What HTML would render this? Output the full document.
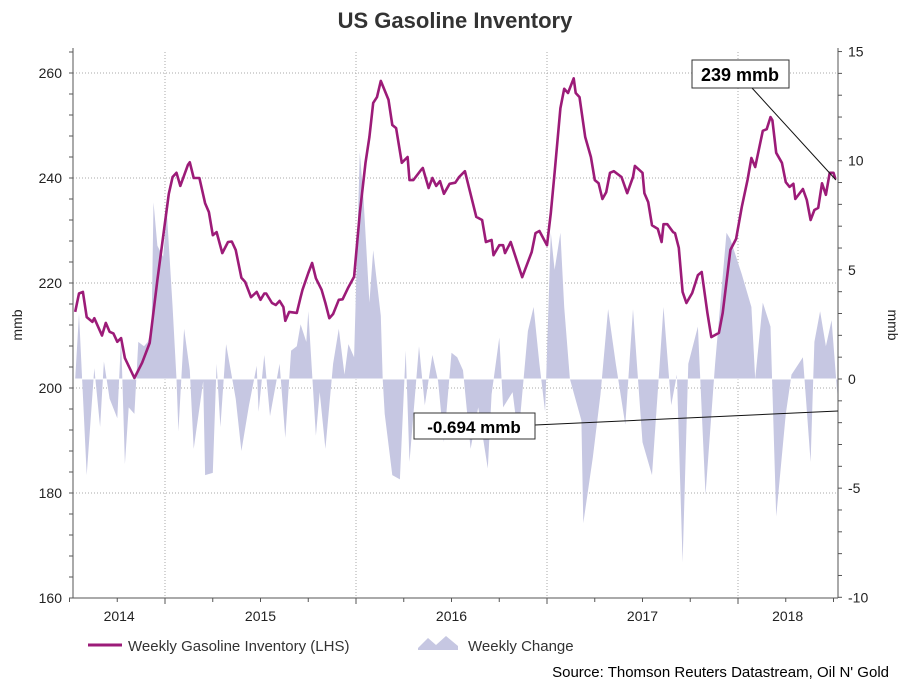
<!DOCTYPE html>
<html><head><meta charset="utf-8"><style>
body{margin:0;background:#fff;font-family:"Liberation Sans",sans-serif}
svg text{font-family:"Liberation Sans",sans-serif}
</style></head><body>
<svg id="c" width="909" height="682"></svg>
<script>
const invT=[2014.53,2014.55,2014.57,2014.59,2014.62,2014.63,2014.67,2014.69,2014.71,2014.73,2014.75,2014.77,2014.79,2014.84,2014.88,2014.92,2014.96,2014.99,2015.02,2015.04,2015.06,2015.08,2015.12,2015.13,2015.15,2015.18,2015.21,2015.23,2015.25,2015.27,2015.30,2015.33,2015.35,2015.37,2015.40,2015.42,2015.45,2015.48,2015.50,2015.52,2015.53,2015.56,2015.58,2015.60,2015.62,2015.63,2015.65,2015.69,2015.71,2015.72,2015.75,2015.77,2015.79,2015.82,2015.84,2015.86,2015.88,2015.91,2015.93,2015.96,2015.99,2016.02,2016.05,2016.07,2016.09,2016.11,2016.13,2016.17,2016.19,2016.21,2016.24,2016.27,2016.28,2016.30,2016.34,2016.35,2016.38,2016.40,2016.42,2016.44,2016.46,2016.49,2016.52,2016.54,2016.57,2016.63,2016.66,2016.68,2016.71,2016.72,2016.75,2016.77,2016.78,2016.81,2016.87,2016.92,2016.94,2016.96,2017.00,2017.02,2017.04,2017.07,2017.09,2017.11,2017.14,2017.15,2017.17,2017.20,2017.23,2017.25,2017.27,2017.29,2017.31,2017.33,2017.35,2017.39,2017.42,2017.45,2017.46,2017.50,2017.51,2017.53,2017.55,2017.58,2017.60,2017.61,2017.63,2017.66,2017.67,2017.69,2017.71,2017.73,2017.76,2017.79,2017.81,2017.84,2017.86,2017.90,2017.92,2017.96,2017.99,2018.02,2018.05,2018.07,2018.09,2018.13,2018.15,2018.17,2018.18,2018.20,2018.23,2018.25,2018.27,2018.29,2018.30,2018.34,2018.36,2018.38,2018.40,2018.42,2018.44,2018.46,2018.48,2018.50,2018.51];
const invV=[214.5,218,218.3,213.5,212.6,213.3,210,212.4,210.7,210.4,208.8,209.5,205.7,201.9,204.8,208.6,220.6,228.8,237,240.2,241,238.5,242.5,243,240,240,235.2,233.5,229.1,229.7,225.7,227.8,227.9,226.3,221,220.2,217.3,218.3,216.8,218,218,216.2,215.8,216.6,215.4,212.8,214.5,214.3,217.3,218.7,221.9,223.8,220.9,218.7,216.2,213.3,214.1,216.8,216.9,219.2,221.2,233.3,242.9,247.8,254.3,255.4,258.5,254.9,250.1,249.5,242.9,244,239.6,239.6,241.5,241.9,238.1,240,238.5,239.4,237,238.9,239.1,240.2,241.3,232.6,232,227.8,228.2,225.3,227.2,227.2,225.7,227.8,221.1,225.9,229.5,229.9,227.2,233.3,241,253.3,257,256.2,259,256.2,255.4,247.8,244,239.6,239,236,237.3,241,241.3,240.2,237.1,240.2,242.3,241,237.1,235.4,231,230.3,227.8,231.2,231.2,229.7,229.5,226.7,218.3,216.2,218.1,221.5,222.1,214.3,209.7,210.5,214.3,226.3,228.4,234.5,239.6,243.8,242.1,249,249.3,251.6,251,244.8,242.9,239.2,238.3,238.9,236,237.9,235.8,232,233.9,234.3,239,236.8,241,241,239.8];
const chgT=[2014.53,2014.55,2014.59,2014.63,2014.66,2014.68,2014.71,2014.75,2014.77,2014.79,2014.81,2014.84,2014.86,2014.89,2014.91,2014.93,2014.94,2014.96,2014.99,2015.01,2015.04,2015.06,2015.07,2015.10,2015.13,2015.15,2015.20,2015.21,2015.25,2015.27,2015.29,2015.32,2015.37,2015.40,2015.44,2015.48,2015.49,2015.52,2015.55,2015.60,2015.63,2015.66,2015.69,2015.71,2015.74,2015.75,2015.79,2015.81,2015.84,2015.88,2015.91,2015.94,2015.96,2015.99,2016.02,2016.04,2016.07,2016.09,2016.13,2016.14,2016.15,2016.19,2016.23,2016.26,2016.28,2016.33,2016.36,2016.40,2016.43,2016.46,2016.50,2016.53,2016.56,2016.60,2016.64,2016.69,2016.71,2016.75,2016.77,2016.82,2016.85,2016.90,2016.93,2016.96,2016.99,2017.02,2017.04,2017.07,2017.09,2017.12,2017.18,2017.19,2017.24,2017.28,2017.32,2017.36,2017.41,2017.45,2017.50,2017.55,2017.59,2017.61,2017.65,2017.68,2017.71,2017.74,2017.79,2017.83,2017.88,2017.94,2017.96,2018.02,2018.07,2018.09,2018.13,2018.17,2018.20,2018.25,2018.28,2018.34,2018.38,2018.40,2018.43,2018.46,2018.49,2018.52];
const chgV=[0,3.0,-4.4,0.5,-2.2,0.8,-0.9,-1.8,1.9,-3.9,-1.3,-1.6,1.7,1.5,1.7,2.4,8.1,6.1,5.6,7.6,3.3,0,-2.4,2.3,0.4,-3.2,-0.1,-4.4,-4.3,0.7,-2.2,1.6,-0.9,-3.3,-1.2,0.6,-1.5,1.1,-1.7,0.7,-2.7,1.3,1.5,2.5,1.7,3.1,-2.6,-0.6,-3.2,0.7,2.3,0.2,1.6,1.0,10.4,8.2,3.5,5.9,2.9,0,-1.6,-4.4,-4.6,1.3,-3.8,1.5,-1.2,1.1,-0.1,-2.9,1.2,1.0,0.4,-3.2,-1.3,-4.1,-0.7,1.9,-1.3,-0.6,-2.7,2.2,3.3,0.7,-1.5,6.7,5.0,6.7,3.3,0,-1.9,-6.6,-3.6,-0.7,3.2,0.7,-2.1,3.2,-2.9,-4.4,0.7,3.3,-1.2,0.2,-8.4,0.7,2.4,-5.3,0.7,6.7,6.4,4.8,3.3,0,3.5,2.4,-6.3,-1.6,0.2,1.0,-3.8,1.7,3.1,1.5,2.7,-0.694];
const leftTicks=[160,180,200,220,240,260];
const rightTicks=[-10,-5,0,5,10,15];
const yearLabels=["2014","2015","2016","2017","2018"];
const yearMid=[2014.76,2015.5,2016.5,2017.5,2018.26];

const NS="http://www.w3.org/2000/svg";
const svg=document.getElementById('c');
const X0=73,X1=838,YT=52,YB=598;
const x=t=>165+(t-2015)*191;
const yL=v=>598-(v-160)*5.25;
const yR=v=>379-v*21.83;
function mk(tag,attrs,parent){const e=document.createElementNS(NS,tag);for(const k in attrs)e.setAttribute(k,attrs[k]);(parent||svg).appendChild(e);return e;}

let e=mk('text',{x:455,y:28,'text-anchor':'middle','font-size':22,'font-weight':'bold',fill:'#333'});e.textContent='US Gasoline Inventory';



leftTicks.forEach(v=>{if(v>160){let g=mk('line',{x1:X0,x2:X1,y1:yL(v),y2:yL(v),stroke:'#aaa','stroke-dasharray':'1,2'});

}});
[2015,2016,2017,2018].forEach(t=>{let g=mk('line',{x1:x(t),x2:x(t),y1:YT,y2:YB,stroke:'#aaa','stroke-dasharray':'1,2'});

});

let d='M'+x(chgT[0])+','+yR(0);
chgT.forEach((t,i)=>{d+=' L'+x(t).toFixed(1)+','+yR(chgV[i]).toFixed(1);});
d+=' L'+x(chgT[chgT.length-1])+','+yR(0)+' Z';
e=mk('path',{d:d,fill:'#c6c7e2',stroke:'none'});


e=mk('line',{x1:X0,x2:X1,y1:yR(0),y2:yR(0),stroke:'#fff','stroke-width':1});

let p=invT.map((t,i)=>x(t).toFixed(1)+','+yL(invV[i]).toFixed(1)).join(' ');
e=mk('polyline',{points:p,fill:'none',stroke:'#9c1b78','stroke-width':2.6,'stroke-linejoin':'round'});



e=mk('line',{x1:X0,x2:X0,y1:YT-4,y2:YB,stroke:'#555'});


e=mk('line',{x1:X1,x2:X1,y1:YT-4,y2:YB,stroke:'#555'});


e=mk('line',{x1:X0,x2:X1,y1:YB,y2:YB,stroke:'#555'});


for(let v=160;v<=264;v+=4){mk('line',{x1:X0-4,x2:X0,y1:yL(v),y2:yL(v),stroke:'#555'});}
for(let v=-10;v<=15;v+=1){mk('line',{x1:X1,x2:X1+4,y1:yR(v),y2:yR(v),stroke:'#555'});}
for(let t=2014.5;t<=2018.5;t+=0.25){mk('line',{x1:x(t),x2:x(t),y1:YB,y2:YB+(Number.isInteger(t)?6:4),stroke:'#555'});}
leftTicks.forEach(v=>{let t=mk('text',{x:62,y:yL(v)+5,'text-anchor':'end','font-size':14,fill:'#222'});t.textContent=v;

});
rightTicks.forEach(v=>{let t=mk('text',{x:848,y:yR(v)+5,'font-size':14,fill:'#222'});t.textContent=v;

});
yearLabels.forEach((s,i)=>{let t=mk('text',{x:x(yearMid[i]),y:621,'text-anchor':'middle','font-size':14,fill:'#222'});t.textContent=s;

});
e=mk('text',{x:0,y:0,transform:'translate(22,325) rotate(-90)','text-anchor':'middle','font-size':14,fill:'#222'});e.textContent='mmb';


e=mk('text',{x:0,y:0,transform:'translate(888,325) rotate(90)','text-anchor':'middle','font-size':14,fill:'#222'});e.textContent='mmb';



mk('line',{x1:752,x2:836,y1:88,y2:180,stroke:'#111'});
e=mk('rect',{x:692,y:60,width:97,height:28,fill:'#fff',stroke:'#333'});


e=mk('text',{x:740,y:81,'text-anchor':'middle','font-size':18,'font-weight':'bold',fill:'#000'});e.textContent='239 mmb';
mk('line',{x1:535,x2:838,y1:425,y2:411,stroke:'#111'});
e=mk('rect',{x:414,y:413,width:121,height:26,fill:'#fff',stroke:'#333'});


e=mk('text',{x:474,y:433,'text-anchor':'middle','font-size':17,'font-weight':'bold',fill:'#000'});e.textContent='-0.694 mmb';

e=mk('line',{x1:88,x2:122,y1:645,y2:645,stroke:'#9c1b78','stroke-width':3});


e=mk('text',{x:128,y:651,'font-size':15,fill:'#333'});e.textContent='Weekly Gasoline Inventory (LHS)';


e=mk('path',{d:'M418,648 L428,638 L436,645 L446,636 L458,646 L458,650 L418,650 Z',fill:'#c6c7e2'});


e=mk('text',{x:468,y:651,'font-size':15,fill:'#333'});e.textContent='Weekly Change';


e=mk('text',{x:889,y:677,'text-anchor':'end','font-size':15,fill:'#000'});e.textContent="Source: Thomson Reuters Datastream, Oil N' Gold";


</script>
</body></html>
